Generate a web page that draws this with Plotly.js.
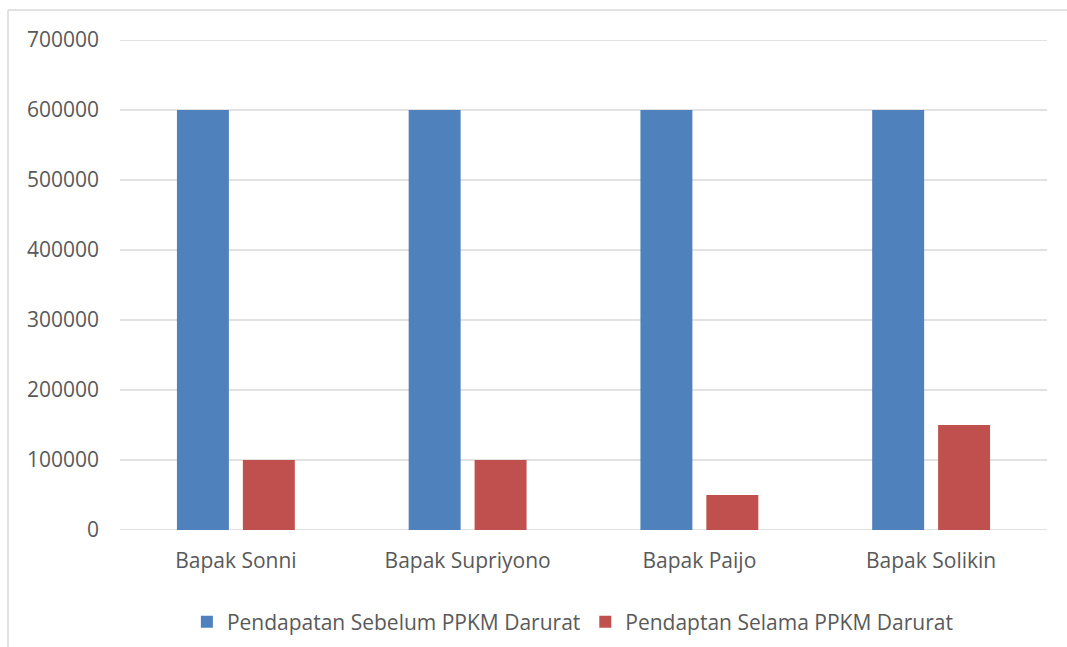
<!DOCTYPE html>
<html>
<head>
<meta charset="utf-8">
<script src="https://cdn.plot.ly/plotly-3.0.1.min.js"></script>
<style>
html,body{margin:0;padding:0;background:#fff;}
#chart{width:1067px;height:647px;}
</style>
</head>
<body>
<div id="chart"></div>
<script>
var categories = ["Bapak Sonni", "Bapak Supriyono", "Bapak Paijo", "Bapak Solikin"];
var seriesNames = ["Pendapatan Sebelum PPKM Darurat", "Pendaptan Selama PPKM Darurat"];
var sebelum = [600000, 600000, 600000, 600000];
var selama = [100000, 100000, 50000, 150000];
var yTicks = [0, 100000, 200000, 300000, 400000, 500000, 600000, 700000];

var font = {family: "Open Sans, sans-serif", size: 21, color: "#595959"};

var traces = [
  {type: "bar", name: seriesNames[0], x: categories, y: sebelum, marker: {color: "#4F81BD"}},
  {type: "bar", name: seriesNames[1], x: categories, y: selama, marker: {color: "#C0504D"}}
];

var gridShapes = yTicks.map(function (v) {
  return {type: "line", xref: "paper", yref: "y", x0: 0, x1: 1, y0: v, y1: v, layer: "below",
          line: {color: "#d9d9d9", width: 1.5}};
});

var layout = {
  width: 1067, height: 647,
  margin: {l: 120, r: 20, t: 40, b: 117, autoexpand: false},
  paper_bgcolor: "#ffffff", plot_bgcolor: "rgba(0,0,0,0)",
  font: font,
  barmode: "group",
  bargap: 0.431,
  bargroupgap: 0.212,
  showlegend: true,
  legend: {orientation: "h", x: 0.488, xanchor: "center", yref: "container", y: 0.0386, yanchor: "middle",
           font: font, itemwidth: 30, tracegroupgap: 0},
  xaxis: {type: "category", showgrid: false, showline: false, zeroline: false, automargin: false,
          ticks: "", tickfont: font, ticklabelstandoff: 16},
  yaxis: {range: [0, 700000], tickvals: yTicks, ticktext: yTicks.map(String), automargin: false,
          showgrid: false, zeroline: false, showline: false, ticks: "", tickfont: font,
          ticklabelstandoff: 20},
  shapes: gridShapes.concat([
    {type: "line", xref: "paper", yref: "paper", x0: -0.1208, x1: -0.1208, y0: 1.0612, y1: -0.25,
     line: {color: "#d9d9d9", width: 1.5}},
    {type: "line", xref: "paper", yref: "paper", x0: -0.1208, x1: 1.03, y0: 1.0612, y1: 1.0612,
     line: {color: "#d9d9d9", width: 1.5}}
  ])
};

Plotly.newPlot("chart", traces, layout, {displayModeBar: false, staticPlot: true});
</script>
</body>
</html>
